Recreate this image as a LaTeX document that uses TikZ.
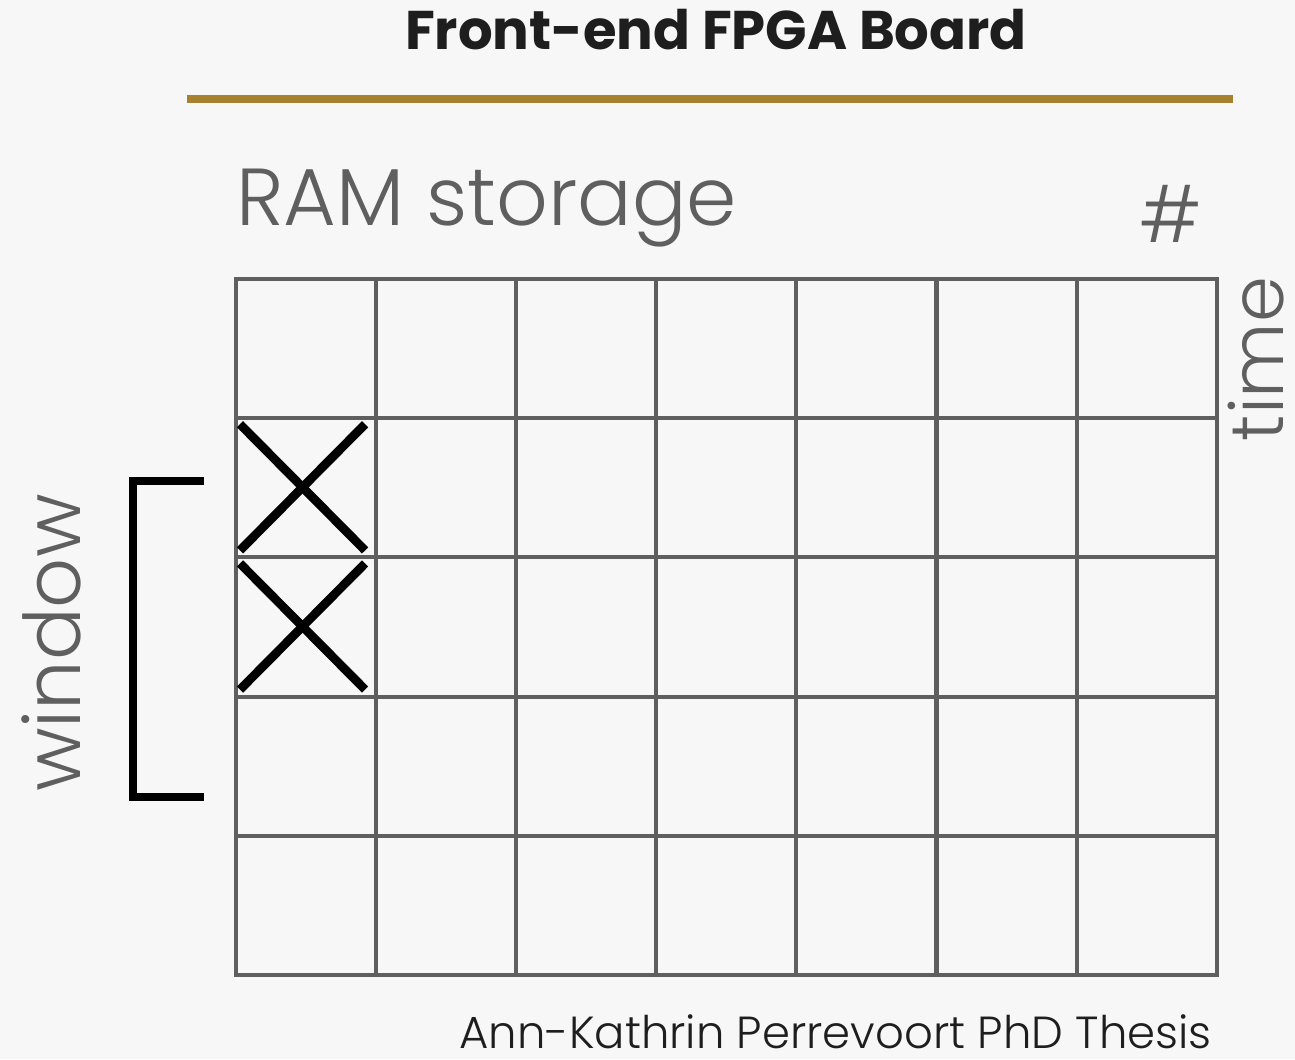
\documentclass[tikz,border=0pt]{standalone}
\usepackage{fontspec}
\setmainfont{Poppins}
\newfontfamily\lightfont{Poppins Light}
\usepackage{tikz}
\usetikzlibrary{positioning,calc}
\definecolor{bgpage}{HTML}{F7F7F7}
\definecolor{gridgray}{HTML}{5F5F5F}
\definecolor{goldbar}{HTML}{A58130}
\definecolor{darktext}{HTML}{1E1E1E}

\begin{document}
\begin{tikzpicture}[
  x=0.02cm, y=-0.02cm,
  cell/.style={draw=gridgray, line width=2.3pt},
  cross/.style={draw=black, line width=5pt},
  brack/.style={draw=black, line width=4.6pt},
  lbl/.style={text=gridgray, inner sep=0pt, font=\lightfont\fontsize{46}{48}\selectfont},
]

\def\gx{236}  \def\gy{279}
\def\cw{140.1} \def\ch{139.2}

% background
\fill[bgpage] (0,0) rectangle (1295,1059);
\useasboundingbox (0,0) rectangle (1295,1059);

% title and bar
\node[font=\bfseries\fontsize{31}{33}\selectfont, text=darktext, inner sep=0pt] (title) at (716,30) {Front-end FPGA Board};
\draw[goldbar, line width=4.5pt] (187,99) -- (1233,99);

% labels
\node[lbl, anchor=base west] (ram) at (236,225) {RAM storage};
\node[lbl, anchor=base, font=\lightfont\fontsize{44}{46}\selectfont] (hash) at (1171,242) {\#};
\node[lbl, anchor=base, rotate=90, font=\lightfont\fontsize{42}{44}\selectfont] (time) at (1283,359) {time};
\node[lbl, anchor=base, rotate=90, font=\lightfont\fontsize{44.5}{46}\selectfont] (win) at (80,643) {window};

% RAM grid, 7 x 5
\foreach \i in {0,...,6} {
  \foreach \j in {0,...,4} {
    \draw[cell] (\gx+\i*\cw,\gy+\j*\ch) rectangle ++(\cw,\ch);
  }
}

% marked cells
\foreach \j in {1,2} {
  \draw[cross] (\gx+4,\gy+\j*\ch+6) -- (\gx+\cw-11,\gy+\j*\ch+\ch-7);
  \draw[cross] (\gx+4,\gy+\j*\ch+\ch-7) -- (\gx+\cw-11,\gy+\j*\ch+6);
}

% window bracket
\draw[brack] (204,481) -- (133,481) -- (133,797) -- (204,797);

% footer
\node[anchor=base east, text=darktext, inner sep=0pt, font=\lightfont\fontsize{25.6}{28}\selectfont] (foot) at (1212,1048) {Ann-Kathrin Perrevoort PhD Thesis};

\end{tikzpicture}
\end{document}
